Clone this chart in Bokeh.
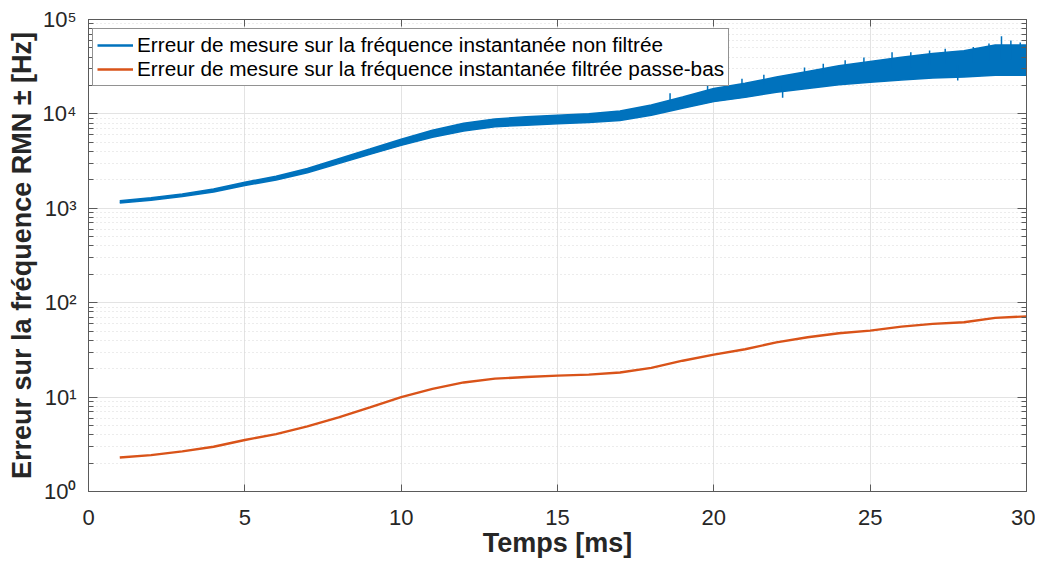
from bokeh.plotting import figure
from bokeh.models import (FixedTicker, CustomJSTickFormatter, LinearAxis, LogAxis,
                          Legend, LegendItem, ColumnDataSource)
from bokeh.embed import file_html
from bokeh.resources import INLINE

# ---- data ----
t_ms = [1, 2, 3, 4, 5, 6, 7, 8, 9, 10, 11, 12, 13, 14, 15,
        16, 17, 18, 19, 20, 21, 22, 23, 24, 25, 26, 27, 28, 29, 30]

# unfiltered error: lower / upper envelope of the noisy trace [Hz]
raw_lo = [1140, 1220, 1335, 1490, 1745, 1995, 2380, 2975, 3725, 4640,
          5662, 6607, 7295, 7603, 7852, 8091, 8511, 9661, 11482, 13490,
          14962, 16982, 18621, 20417, 21627, 22909, 23988, 24547, 25704, 25704]
raw_hi = [1205, 1295, 1420, 1600, 1890, 2180, 2640, 3350, 4240, 5400,
          6714, 7943, 8851, 9311, 9661, 10046, 10715, 12445, 15136, 18621,
          21135, 24547, 28184, 32359, 35892, 39811, 43652, 46774, 53703, 53703]

# visible spikes of the unfiltered trace
spike_t = [18.6, 19.8, 20.9, 21.6, 22.2, 22.9, 23.5, 24.2, 24.8, 25.7, 26.3,
           26.9, 27.4, 27.8, 28.3, 28.8, 29.2, 29.5, 29.8]
spike_base = [13000, 16000, 18000, 20000, 20000, 24000, 27000, 28000, 30000,
              30000, 31000, 33000, 34000, 33000, 35000, 37000, 38000, 38000, 38000]
spike_tip = [16500, 20500, 23500, 26000, 14800, 31000, 34000, 37000, 39500,
             45000, 45000, 47000, 49000, 22600, 51000, 55600, 66500, 60000, 57000]

# low-pass filtered error [Hz]
filt = [2.29, 2.43, 2.66, 2.98, 3.51, 4.06, 4.89, 6.09, 7.78, 10.0,
        12.2, 14.3, 15.7, 16.3, 16.9, 17.3, 18.2, 20.4, 24.3, 28.2,
        32.1, 38.0, 43.0, 47.4, 50.6, 55.8, 59.6, 62.0, 69.0, 71.7]

x_ticks = [0, 5, 10, 15, 20, 25, 30]
y_ticks = [1, 10, 100, 1000, 10000, 100000]
y_minor = [m * d for d in y_ticks[:-1] for m in range(2, 10)]

BLUE = "#0072BD"
ORANGE = "#D95319"
AX = "#5a5a5a"
TXT = "#262626"
FONT = "Liberation Sans"

p = figure(width=1035, height=561, x_range=(0, 30), y_range=(1, 1e5),
           y_axis_type="log", output_backend="svg", toolbar_location=None,
           min_border_left=88, min_border_right=9, min_border_top=19,
           min_border_bottom=70)
p.background_fill_color = "white"
p.border_fill_color = "white"
p.outline_line_color = AX
p.outline_line_width = 1

src = ColumnDataSource(dict(t=t_ms, lo=raw_lo, hi=raw_hi, f=filt))
p.varea(x="t", y1="lo", y2="hi", source=src, fill_color=BLUE)
p.line(x="t", y="lo", source=src, line_color=BLUE, line_width=1.5)
p.line(x="t", y="hi", source=src, line_color=BLUE, line_width=1.5)
p.segment(x0=spike_t, y0=spike_base, x1=spike_t, y1=spike_tip,
          line_color=BLUE, line_width=1.5)
blue_leg = p.line(x=[None], y=[None], line_color=BLUE, line_width=2.5)
orange = p.line(x="t", y="f", source=src, line_color=ORANGE, line_width=2.4)

xt = FixedTicker(ticks=x_ticks)
yt = FixedTicker(ticks=y_ticks, minor_ticks=y_minor)
sup = CustomJSTickFormatter(code="""
const m = {'0':'\u2070','1':'\u00b9','2':'\u00b2','3':'\u00b3','4':'\u2074','5':'\u2075',
           '6':'\u2076','7':'\u2077','8':'\u2078','9':'\u2079'};
const e = Math.round(Math.log10(tick));
return '10' + String(e).split('').map(c => m[c]).join('');
""")
blank = CustomJSTickFormatter(code="return '';")

p.xaxis[0].ticker = xt
p.yaxis[0].ticker = yt
p.yaxis[0].formatter = sup

for ax in p.xaxis + p.yaxis:
    ax.axis_line_color = AX
    ax.major_tick_line_color = AX
    ax.minor_tick_line_color = AX
    ax.major_tick_out = 0
    ax.minor_tick_out = 0
    ax.major_label_text_font = FONT
    ax.major_label_text_font_size = "22px"
    ax.major_label_text_color = TXT
    ax.axis_label_text_font = FONT
    ax.axis_label_text_font_size = "27px"
    ax.axis_label_text_font_style = "bold"
    ax.axis_label_text_color = TXT

p.xaxis.major_tick_in = 7
p.xaxis.minor_tick_in = 0
p.xaxis.major_label_standoff = 18
p.xaxis.major_label_text_line_height = 0.9
p.xaxis.axis_label = "Temps [ms]"
p.xaxis.axis_label_standoff = 0
p.xaxis.axis_label_text_line_height = 0.8
p.yaxis.major_tick_in = 9
p.yaxis.minor_tick_in = 5
p.yaxis.major_label_standoff = 12
p.yaxis.axis_label = "Erreur sur la fréquence RMN ± [Hz]"
p.yaxis.axis_label_standoff = 3

top = LinearAxis(ticker=xt, formatter=blank, axis_line_color=AX,
                 major_tick_line_color=AX, major_tick_in=7, major_tick_out=0,
                 minor_tick_in=0, minor_tick_out=0, major_label_text_font_size="0px",
                 major_label_standoff=0)
right = LogAxis(ticker=yt, formatter=blank, axis_line_color=AX,
                major_tick_line_color=AX, minor_tick_line_color=AX,
                major_tick_in=9, major_tick_out=0, minor_tick_in=5, minor_tick_out=0,
                major_label_text_font_size="0px", major_label_standoff=0)
p.add_layout(top, "above")
p.add_layout(right, "right")

p.xgrid.ticker = xt
p.ygrid.ticker = yt
p.xgrid.grid_line_color = "#e3e3e3"
p.ygrid.grid_line_color = "#e3e3e3"
p.ygrid.minor_grid_line_color = "#d8d8d8"
p.ygrid.minor_grid_line_dash = "1 3"

legend = Legend(items=[
    LegendItem(label="Erreur de mesure sur la fréquence instantanée non filtrée", renderers=[blue_leg]),
    LegendItem(label="Erreur de mesure sur la fréquence instantanée filtrée passe-bas", renderers=[orange]),
], location=(4, 405))
legend.label_text_font = FONT
legend.label_text_font_size = "20.75px"
legend.label_text_color = "black"
legend.border_line_color = "#262626"
legend.border_line_width = 1
legend.background_fill_color = "white"
legend.background_fill_alpha = 1
legend.padding = 4
legend.spacing = 0
legend.margin = 0
legend.glyph_width = 36
legend.glyph_height = 20
legend.label_height = 20
legend.label_standoff = 4
p.add_layout(legend, "center")

open("out.html", "w").write(file_html(p, INLINE))
